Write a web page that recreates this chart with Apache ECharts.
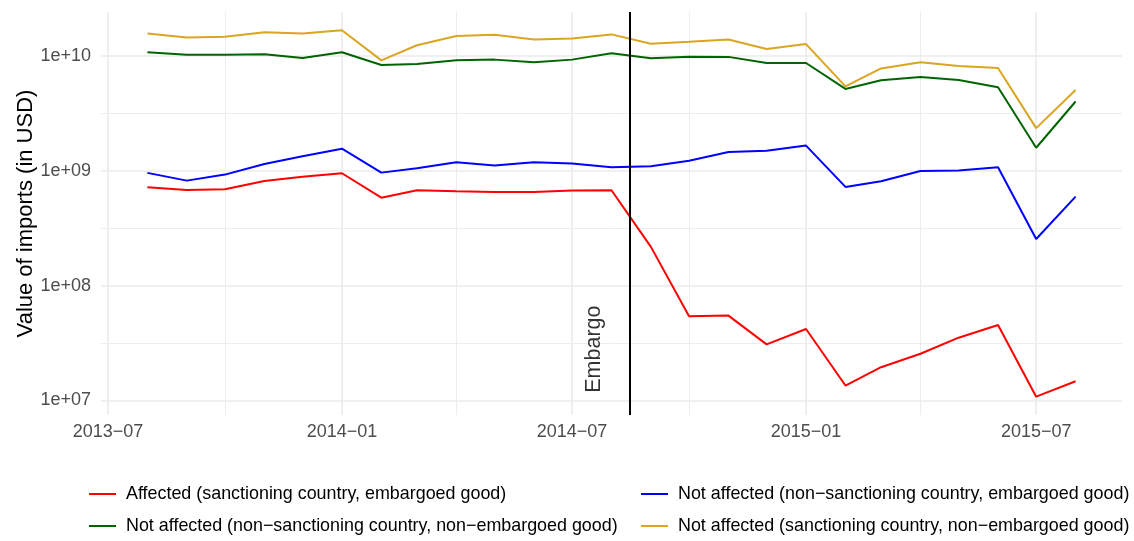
<!DOCTYPE html>
<html>
<head>
<meta charset="utf-8">
<script src="https://cdn.jsdelivr.net/npm/echarts@6/dist/echarts.min.js"></script>
<style>
  html, body { margin: 0; padding: 0; background: #ffffff; }
  #chart { width: 1134px; height: 541px; }
</style>
</head>
<body>
<div id="chart"></div>
<script>
// Monthly import values (USD), August 2013 – August 2015
const months = [
  '2013-08', '2013-09', '2013-10', '2013-11', '2013-12',
  '2014-01', '2014-02', '2014-03', '2014-04', '2014-05', '2014-06', '2014-07', '2014-08',
  '2014-09', '2014-10', '2014-11', '2014-12',
  '2015-01', '2015-02', '2015-03', '2015-04', '2015-05', '2015-06', '2015-07', '2015-08'
];

const affectedSanctioningEmbargoed = [
  7.16e8, 6.78e8, 6.88e8, 8.13e8, 8.86e8,
  9.48e8, 5.81e8, 6.74e8, 6.61e8, 6.52e8, 6.52e8, 6.70e8, 6.74e8,
  2.17e8, 5.41e7, 5.48e7, 3.08e7,
  4.19e7, 1.35e7, 1.95e7, 2.55e7, 3.52e7, 4.54e7, 1.08e7, 1.47e7
];

const nonSanctioningEmbargoed = [
  9.55e8, 8.18e8, 9.23e8, 1.14e9, 1.33e9,
  1.55e9, 9.60e8, 1.05e9, 1.18e9, 1.11e9, 1.18e9, 1.15e9, 1.07e9,
  1.09e9, 1.22e9, 1.45e9, 1.49e9,
  1.65e9, 7.21e8, 8.08e8, 9.93e8, 1.00e9, 1.07e9, 2.54e8, 5.93e8
];

const nonSanctioningNonEmbargoed = [
  1.07e10, 1.02e10, 1.02e10, 1.03e10, 9.55e9,
  1.07e10, 8.30e9, 8.47e9, 9.10e9, 9.23e9, 8.74e9, 9.23e9, 1.05e10,
  9.47e9, 9.80e9, 9.75e9, 8.63e9,
  8.63e9, 5.13e9, 6.10e9, 6.52e9, 6.14e9, 5.30e9, 1.58e9, 3.99e9
];

const sanctioningNonEmbargoed = [
  1.56e10, 1.44e10, 1.46e10, 1.60e10, 1.56e10,
  1.66e10, 9.10e9, 1.23e10, 1.48e10, 1.52e10, 1.38e10, 1.41e10, 1.53e10,
  1.27e10, 1.32e10, 1.38e10, 1.14e10,
  1.26e10, 5.40e9, 7.74e9, 8.74e9, 8.13e9, 7.81e9, 2.34e9, 5.02e9
];

const seriesNames = [
  'Affected (sanctioning country, embargoed good)',
  'Not affected (non\u2212sanctioning country, embargoed good)',
  'Not affected (non\u2212sanctioning country, non\u2212embargoed good)',
  'Not affected (sanctioning country, non\u2212embargoed good)'
];

// Axis breaks
const xMajorTicks = ['2013-07-01', '2014-01-01', '2014-07-01', '2015-01-01', '2015-07-01'];
const xMinorTicks = ['2013-10-01', '2014-04-01', '2014-10-01', '2015-04-01'];
const yMajorTicks = [1e7, 1e8, 1e9, 1e10];
const yMinorTicks = [3.1623e7, 3.1623e8, 3.1623e9];

// Embargo marker and its annotation
const embargoDate = '2014-08-15';
const embargoLabel = { date: '2014-07-18', value: 2.8e7, text: 'Embargo' };

// Dates are handled as UTC millisecond timestamps on a numeric axis
const toMs = s => { const p = s.split('-').map(Number); return Date.UTC(p[0], p[1] - 1, p[2] || 1); };
const dates = months.map(m => toMs(m + '-01'));

// 5% padding on both axes (log space on y)
const xFirst = dates[0];
const xLast = dates[dates.length - 1];
const xPad = (xLast - xFirst) * 0.05;
const xMin = xFirst - xPad;
const xMax = xLast + xPad;

const allValues = [].concat(affectedSanctioningEmbargoed, nonSanctioningEmbargoed,
  nonSanctioningNonEmbargoed, sanctioningNonEmbargoed);
const lo = Math.log10(Math.min.apply(null, allValues));
const hi = Math.log10(Math.max.apply(null, allValues));
const yPad = (hi - lo) * 0.05;
const yMin = Math.pow(10, lo - yPad);
const yMax = Math.pow(10, hi + yPad);

const FONT = '"Liberation Sans", Arial, Helvetica, sans-serif';
const GRID = '#ebebeb';

function monthLabel(v) {
  const d = new Date(v);
  return d.getUTCFullYear() + '\u2212' + String(d.getUTCMonth() + 1).padStart(2, '0');
}
function sciLabel(v) {
  const e = Math.round(Math.log10(v));
  return '1e+' + String(e).padStart(2, '0');
}

function lineSeries(name, color, values, extra) {
  return Object.assign({
    name: name,
    type: 'line',
    xAxisIndex: 0,
    yAxisIndex: 0,
    data: dates.map((d, i) => [d, values[i]]),
    showSymbol: false,
    symbol: 'none',
    lineStyle: { color: color, width: 2 },
    itemStyle: { color: color },
    emphasis: { disabled: true },
    silent: true,
    z: 3
  }, extra || {});
}

// One legend entry per key, arranged in two columns by two rows
function legendEntry(name, left, top) {
  return {
    data: [name],
    left: left,
    top: top,
    icon: 'rect',
    itemWidth: 27,
    itemHeight: 2,
    selectedMode: false,
    padding: 0,
    textStyle: { fontFamily: FONT, fontSize: 17.9, color: '#000', lineHeight: 20, padding: [0, 0, 0, 5] }
  };
}

const chart = echarts.init(document.getElementById('chart'), null, { renderer: 'canvas' });
chart.setOption({
  animation: false,
  backgroundColor: '#ffffff',
  grid: { left: 101, right: 12, top: 12, bottom: 126 },
  xAxis: [
    {
      type: 'value',
      min: xMin,
      max: xMax,
      axisLine: { show: false },
      axisTick: { show: false, customValues: xMajorTicks.map(toMs) },
      axisLabel: {
        customValues: xMajorTicks.map(toMs),
        formatter: monthLabel,
        fontFamily: FONT, fontSize: 18, color: '#4d4d4d', margin: 8
      },
      splitLine: { show: true, lineStyle: { color: GRID, width: 1.6 } }
    },
    {
      type: 'value',
      min: xMin,
      max: xMax,
      axisLine: { show: false },
      axisTick: { show: false, customValues: xMinorTicks.map(toMs) },
      axisLabel: { show: false },
      splitLine: { show: true, lineStyle: { color: GRID, width: 0.9 } }
    }
  ],
  yAxis: [
    {
      type: 'log',
      logBase: 10,
      min: yMin,
      max: yMax,
      axisLine: { show: false },
      axisTick: { show: false, customValues: yMajorTicks },
      axisLabel: {
        customValues: yMajorTicks,
        formatter: sciLabel,
        fontFamily: FONT, fontSize: 18, color: '#4d4d4d', margin: 10
      },
      splitLine: { show: true, lineStyle: { color: GRID, width: 1.6 } },
      name: 'Value of imports (in USD)',
      nameLocation: 'middle',
      nameGap: 64,
      nameMoveOverlap: false,
      nameTextStyle: { fontFamily: FONT, fontSize: 22, color: '#000' }
    },
    {
      type: 'log',
      logBase: 10,
      min: yMin,
      max: yMax,
      axisLine: { show: false },
      axisTick: { show: false, customValues: yMinorTicks },
      axisLabel: { show: false },
      splitLine: { show: true, lineStyle: { color: GRID, width: 0.9 } }
    }
  ],
  legend: [
    legendEntry(seriesNames[0], 89, 484),
    legendEntry(seriesNames[2], 89, 516),
    legendEntry(seriesNames[1], 641, 484),
    legendEntry(seriesNames[3], 641, 516)
  ],
  series: [
    lineSeries(seriesNames[0], '#ff0000', affectedSanctioningEmbargoed, {
      markLine: {
        silent: true,
        symbol: ['none', 'none'],
        label: { show: false },
        lineStyle: { color: '#000000', width: 2, type: 'solid' },
        emphasis: { disabled: true },
        data: [{ xAxis: toMs(embargoDate) }]
      }
    }),
    lineSeries(seriesNames[1], '#0000ff', nonSanctioningEmbargoed),
    lineSeries(seriesNames[2], '#006400', nonSanctioningNonEmbargoed),
    lineSeries(seriesNames[3], '#daa520', sanctioningNonEmbargoed),
    {
      type: 'scatter',
      xAxisIndex: 0,
      yAxisIndex: 0,
      silent: true,
      symbolSize: 0,
      data: [[toMs(embargoLabel.date), embargoLabel.value]],
      label: {
        show: true,
        position: 'inside',
        rotate: 90,
        formatter: embargoLabel.text,
        fontFamily: FONT, fontSize: 21.5, color: '#000'
      }
    }
  ]
});
</script>
</body>
</html>
